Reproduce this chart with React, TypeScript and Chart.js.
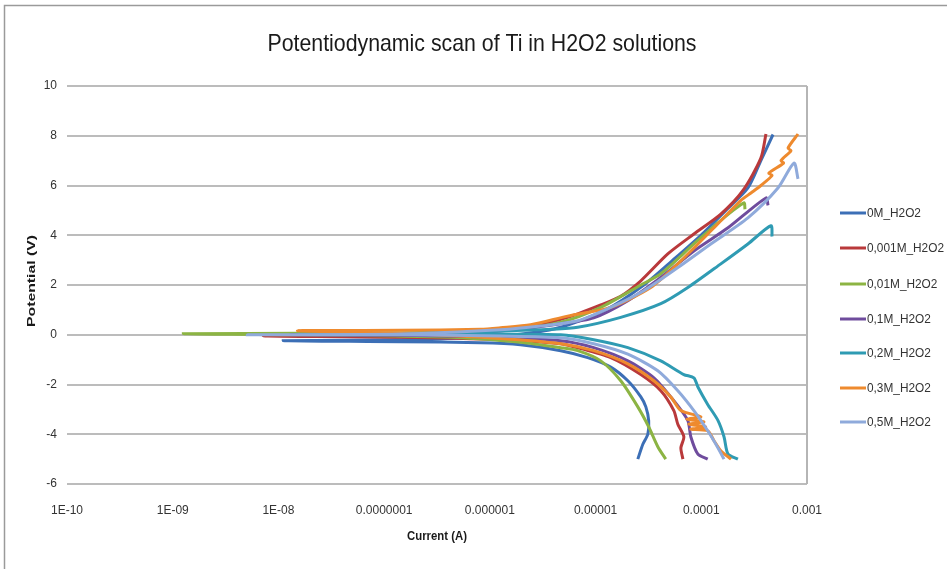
import { useEffect, useRef } from "react";
import { Chart, registerables } from "chart.js";
Chart.register(...registerables);

const TITLE = "Potentiodynamic scan of Ti in H2O2 solutions";
const X_TITLE = "Current (A)";
const Y_TITLE = "Potential (V)";

const xTickValues = [1e-10, 1e-9, 1e-8, 1e-7, 1e-6, 1e-5, 1e-4, 1e-3];
const xTickLabels = ["1E-10", "1E-09", "1E-08", "0.0000001", "0.000001", "0.00001", "0.0001", "0.001"];
const yTickValues = [-6, -4, -2, 0, 2, 4, 6, 8, 10];
const yTickLabels = ["-6", "-4", "-2", "0", "2", "4", "6", "8", "10"];

const seriesNames = ["0M_H2O2", "0,001M_H2O2", "0,01M_H2O2", "0,1M_H2O2", "0,2M_H2O2", "0,3M_H2O2", "0,5M_H2O2"];
const seriesColors = ["#3c6fb6", "#b9393b", "#8cb443", "#6f4c9d", "#2f9bb3", "#ee8a2e", "#8faadb"];

// 0M
const I_0M = [2.51e-5, 2.8e-5, 3.12e-5, 3.18e-5, 2.99e-5, 2.68e-5, 2.02e-5, 1.39e-5, 8.43e-6, 4.68e-6, 1.95e-6, 8.17e-7, 1.43e-7, 1.11e-8,
  1.43e-7, 8.17e-7, 1.95e-6, 4.68e-6, 1.25e-5, 2.86e-5, 5.38e-5, 9.91e-5, 1.71e-4, 2.76e-4, 3.66e-4, 4.77e-4];
const E_0M = [-5.0, -4.4, -4.0, -3.45, -2.9, -2.5, -1.85, -1.3, -0.92, -0.64, -0.4, -0.32, -0.28, -0.24,
  -0.2, -0.1, 0.02, 0.3, 1.0, 2.0, 3.0, 4.0, 5.0, 5.9, 7.0, 8.05];

// 0,001M
const I_0001M = [6.7e-5, 6.41e-5, 6.84e-5, 6.0e-5, 5.5e-5, 4.14e-5, 2.68e-5, 1.39e-5, 6.78e-6, 4.68e-6, 1.26e-6, 1.43e-7, 7.19e-9,
  1.43e-7, 1.26e-6, 2.59e-6, 5.44e-6, 1.12e-5, 1.73e-5, 2.68e-5, 4.82e-5, 8.51e-5, 1.53e-4, 2.48e-4, 3.66e-4, 4.09e-4];
const E_0001M = [-5.0, -4.55, -4.1, -3.6, -3.05, -2.25, -1.6, -0.92, -0.52, -0.36, -0.2, -0.1, -0.05,
  0.0, 0.24, 0.36, 0.7, 1.2, 1.55, 2.17, 3.25, 4.05, 4.85, 5.8, 7.1, 8.07];

// 0,01M
const I_001M = [4.61e-5, 3.88e-5, 3.18e-5, 2.51e-5, 1.73e-5, 1.12e-5, 6.78e-6, 4.68e-6, 1.95e-6, 4.25e-7, 1.61e-8, 1.26e-9,
  1.61e-8, 4.25e-7, 1.95e-6, 4.68e-6, 1.12e-5, 2.68e-5, 4.14e-5, 8.51e-5, 1.53e-4, 2.53e-4, 2.59e-4];
const E_001M = [-5.0, -4.5, -3.7, -2.9, -1.85, -1.05, -0.64, -0.52, -0.3, -0.1, 0.0, 0.04,
  0.06, 0.1, 0.25, 0.5, 1.1, 2.0, 2.45, 3.65, 4.6, 5.3, 5.05];

// 0,1M
const I_01M = [1.15e-4, 9.29e-5, 7.96e-5, 7.46e-5, 5.5e-5, 3.56e-5, 2.02e-5, 9.6e-6, 4.68e-6, 1.26e-6, 1.43e-7, 1.29e-8,
  1.43e-7, 1.26e-6, 4.68e-6, 9.6e-6, 2.02e-5, 4.14e-5, 8.51e-5, 1.79e-4, 4.09e-4, 4.28e-4];
const E_01M = [-5.0, -4.8, -4.1, -3.45, -2.65, -1.73, -1.05, -0.52, -0.24, -0.1, -0.02, 0.0,
  0.02, 0.15, 0.44, 0.68, 1.37, 2.3, 3.37, 4.3, 5.5, 5.2];

// 0,2M
const I_02M = [2.22e-4, 1.79e-4, 1.64e-4, 1.44e-4, 1.15e-4, 9.29e-5, 8.51e-5, 6.84e-5, 4.14e-5, 2.02e-5, 9.6e-6, 4.68e-6, 1.26e-6, 1.61e-8,
  1.43e-7, 1.26e-6, 3.76e-6, 6.78e-6, 1.73e-5, 4.14e-5, 7.46e-5, 1.53e-4, 2.76e-4, 4.56e-4, 4.67e-4];
const E_02M = [-5.0, -4.8, -4.1, -3.45, -2.8, -2.1, -1.73, -1.6, -1.05, -0.52, -0.2, 0.0, 0.02, 0.02,
  0.05, 0.15, 0.22, 0.3, 0.7, 1.25, 1.9, 2.85, 3.65, 4.38, 3.95];

// 0,3M
const I_03M = [1.91e-4, 1.53e-4, 1.32e-4, 1.15e-4, 7.96e-5, 1.1e-4, 7.62e-5, 1.06e-4, 7.31e-5, 9.91e-5, 6.41e-5, 5.15e-5, 3.56e-5, 2.02e-5, 9.6e-6, 4.68e-6, 1.26e-6, 1.43e-7, 1.51e-8,
  1.43e-7, 8.17e-7, 1.26e-6, 2.43e-6, 5.44e-6, 1.39e-5, 3.33e-5, 6.0e-5, 1.32e-4, 2.37e-4, 2.95e-4, 3.66e-4, 4.67e-4, 4.36e-4, 6.0e-4, 5.68e-4, 7.05e-4, 6.61e-4, 8.22e-4];
const E_03M = [-5.0, -4.66, -4.26, -3.86, -3.8, -3.7, -3.6, -3.5, -3.4, -3.3, -3.05, -2.5, -1.85, -1.17, -0.64, -0.36, -0.15, 0.05, 0.16,
  0.18, 0.22, 0.28, 0.4, 0.75, 1.1, 1.9, 2.85, 4.3, 5.4, 5.7, 6.0, 6.4, 6.5, 6.9, 7.0, 7.4, 7.5, 8.07];

// 0,5M
const I_05M = [1.64e-4, 1.44e-4, 1.15e-4, 8.51e-5, 6.0e-5, 3.88e-5, 2.02e-5, 9.6e-6, 4.68e-6, 1.26e-6, 1.43e-7, 5.07e-9,
  1.43e-7, 1.26e-6, 3.02e-6, 6.78e-6, 1.39e-5, 2.86e-5, 6.0e-5, 1.23e-4, 2.76e-4, 5.31e-4, 7.53e-4, 8.22e-4];
const E_05M = [-5.0, -4.55, -3.86, -3.05, -2.25, -1.45, -0.78, -0.36, -0.12, -0.05, 0.0, 0.0,
  0.03, 0.2, 0.35, 0.56, 1.1, 1.77, 2.7, 3.65, 4.7, 5.9, 6.9, 6.27];

const seriesI = [I_0M, I_0001M, I_001M, I_01M, I_02M, I_03M, I_05M];
const seriesE = [E_0M, E_0001M, E_001M, E_01M, E_02M, E_03M, E_05M];

const FONT = "'Liberation Sans', Arial, sans-serif";

function drawScaled(ctx: CanvasRenderingContext2D, text: string, x: number, y: number, font: string, sx: number, align: CanvasTextAlign, rotate = false) {
  ctx.save();
  ctx.font = font;
  ctx.translate(x, y);
  if (rotate) ctx.rotate(-Math.PI / 2);
  ctx.scale(sx, 1);
  ctx.textAlign = align;
  ctx.textBaseline = "middle";
  ctx.fillText(text, 0, 0);
  ctx.restore();
}

function fitScale(ctx: CanvasRenderingContext2D, text: string, font: string, targetW: number) {
  ctx.save();
  ctx.font = font;
  const w = ctx.measureText(text).width;
  ctx.restore();
  return targetW / w;
}

const decorPlugin = {
  id: "decor",
  afterDraw(chart: any) {
    const ctx: CanvasRenderingContext2D = chart.ctx;
    const a = chart.chartArea;
    ctx.save();
    // outer frame
    ctx.strokeStyle = "#9a9a9a";
    ctx.lineWidth = 1.5;
    ctx.beginPath();
    ctx.moveTo(4.5, 569);
    ctx.lineTo(4.5, 5.5);
    ctx.lineTo(947, 5.5);
    ctx.stroke();
    // right border of plot area
    ctx.strokeStyle = "#b5b5b5";
    ctx.lineWidth = 2;
    ctx.beginPath();
    ctx.moveTo(a.right, a.top);
    ctx.lineTo(a.right, a.bottom);
    ctx.stroke();
    // title
    ctx.fillStyle = "#1a1a1a";
    const tf = `24px ${FONT}`;
    drawScaled(ctx, TITLE, 482, 44, tf, fitScale(ctx, TITLE, tf, 429), "center");
    // axis titles
    const xf = `bold 12px ${FONT}`;
    drawScaled(ctx, X_TITLE, 437, 537, xf, fitScale(ctx, X_TITLE, xf, 60), "center");
    const yf = `bold 11px ${FONT}`;
    drawScaled(ctx, Y_TITLE, 32, 281, yf, fitScale(ctx, Y_TITLE, yf, 92), "center", true);
    // legend
    const ys = [213, 248, 284, 319, 353, 388, 422];
    const lf = `13px ${FONT}`;
    const ls = fitScale(ctx, "0,001M_H2O2", lf, 77);
    seriesNames.forEach((n, i) => {
      ctx.strokeStyle = seriesColors[i];
      ctx.lineWidth = 3;
      ctx.beginPath();
      ctx.moveTo(840, ys[i]);
      ctx.lineTo(866, ys[i]);
      ctx.stroke();
      ctx.fillStyle = "#333";
      drawScaled(ctx, n, 867, ys[i], lf, ls, "left");
    });
    ctx.restore();
  },
};

export default function App() {
  const ref = useRef<HTMLCanvasElement | null>(null);
  useEffect(() => {
    if (!ref.current) return;
    const datasets = seriesNames.map((name, i) => ({
      label: name,
      data: seriesI[i].map((x, k) => ({ x, y: seriesE[i][k] })),
      borderColor: seriesColors[i],
      backgroundColor: seriesColors[i],
      borderWidth: 3,
      pointRadius: 0,
      showLine: true,
      tension: 0.25,
      order: 10 - i,
    }));
    const chart = new Chart(ref.current, {
      type: "scatter",
      data: { datasets },
      options: {
        animation: false,
        responsive: true,
        maintainAspectRatio: false,
        layout: { padding: { left: 10, right: 140, top: 86, bottom: 0 } },
        plugins: { legend: { display: false }, title: { display: false }, tooltip: { enabled: false } },
        scales: {
          x: {
            type: "logarithmic",
            min: 1e-10,
            max: 1e-3,
            grid: { display: false, drawTicks: false },
            border: { display: false },
            afterBuildTicks: (s: any) => { s.ticks = xTickValues.map((v) => ({ value: v })); },
            afterFit: (s: any) => { s.height = 85; },
            ticks: {
              autoSkip: false, maxRotation: 0, minRotation: 0, padding: 19,
              color: "#333", font: { family: FONT, size: 12 },
              callback: (_v: any, i: number) => xTickLabels[i],
            },
          },
          y: {
            type: "linear",
            min: -6,
            max: 10,
            grid: { color: "#bcbcbc", lineWidth: 2, drawTicks: false },
            border: { display: false },
            afterBuildTicks: (s: any) => { s.ticks = yTickValues.map((v) => ({ value: v })); },
            afterFit: (s: any) => { s.width = 57; },
            ticks: {
              padding: 10, color: "#333", font: { family: FONT, size: 12 },
              callback: (_v: any, i: number) => yTickLabels[i],
            },
          },
        },
      },
      plugins: [decorPlugin],
    } as any);
    return () => chart.destroy();
  }, []);
  return (
    <div style={{ position: "fixed", left: 0, top: 0, width: 947, height: 569, background: "#fff" }}>
      <canvas ref={ref} />
    </div>
  );
}
